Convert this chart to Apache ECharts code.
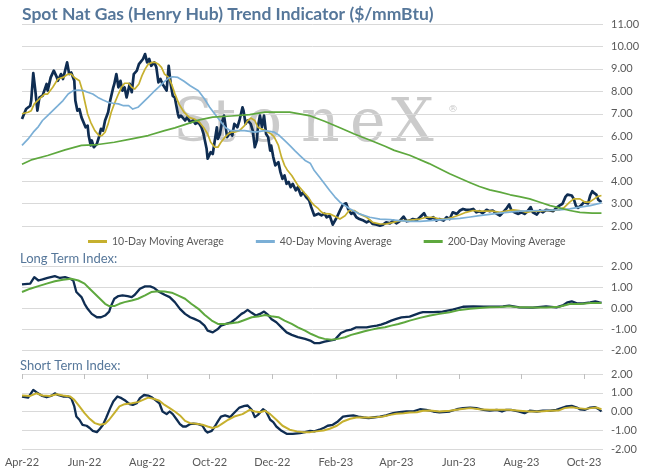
<!DOCTYPE html>
<html>
<head>
<meta charset="utf-8">
<title>Spot Nat Gas (Henry Hub) Trend Indicator</title>
<script src="https://cdn.jsdelivr.net/npm/echarts@6/dist/echarts.min.js"></script>
<style>
  html, body { margin: 0; padding: 0; background: #fff; }
  #chart { width: 646px; height: 475px; }
</style>
</head>
<body>
<div id="chart"></div>
<script>
// day offsets are counted from 1 Apr 2022
const START = Date.UTC(2022, 3, 1);
const END = Date.UTC(2023, 9, 19, 12);
const DAY = 86400000;

const tickDates = ["2022-04-01", "2022-06-01", "2022-08-01", "2022-10-01", "2022-12-01",
  "2023-02-01", "2023-04-01", "2023-06-01", "2023-08-01", "2023-10-01"];
const monthNames = ["Jan", "Feb", "Mar", "Apr", "May", "Jun", "Jul", "Aug", "Sep", "Oct", "Nov", "Dec"];
const legendNames = ["10-Day Moving Average", "40-Day Moving Average", "200-Day Moving Average"];

// spot price, $/mmBtu  [day, value]
const spot = [[0,6.77],[4,7.21],[8,7.36],[9,7.6],[11,8.81],[13,8.03],[15,7.14],[17,7.73],[20,7.8],[24,8.33],[25,8.03],[28,8.62],[31,8.92],[34,8.62],[35,8.47],[38,8.77],[40,8.55],[44,9.29],[46,8.77],[48,8.84],[51,8.47],[52,7.59],[54,7.14],[56,7.21],[58,6.84],[59,6.92],[62,6.4],[64,6.47],[65,6.03],[67,5.59],[68,5.81],[70,5.51],[73,5.66],[75,5.96],[77,6.33],[79,6.25],[81,6.7],[84,7.07],[86,7.59],[89,8.18],[90,8.33],[92,8.77],[94,8.18],[96,8.47],[98,8.03],[100,8.18],[102,7.73],[105,8.33],[107,7.96],[109,8.77],[112,8.92],[114,9.21],[115,9.14],[118,9.44],[120,9.66],[122,9.29],[124,9.44],[126,9.14],[129,9.29],[131,9.07],[133,8.4],[135,8.55],[137,8.33],[141,8.03],[143,9.14],[145,8.33],[147,7.8],[149,7.73],[152,7.0],[153,6.84],[155,6.92],[159,6.7],[161,6.84],[164,6.62],[167,6.7],[169,6.55],[172,6.62],[175,6.4],[177,6.1],[180,5.44],[181,5.0],[184,5.29],[186,5.21],[188,5.81],[190,6.4],[191,5.88],[193,6.1],[195,6.62],[197,6.92],[198,7.0],[200,5.96],[203,6.18],[205,6.03],[207,6.55],[210,6.4],[212,6.7],[215,7.29],[216,7.14],[218,6.55],[220,6.7],[223,6.55],[225,6.25],[227,5.51],[229,5.81],[230,6.4],[232,6.92],[234,6.4],[236,6.92],[238,6.1],[240,5.96],[242,5.36],[243,5.58],[245,5.07],[247,4.7],[250,4.84],[252,4.4],[254,4.1],[256,4.25],[258,3.88],[260,3.96],[262,3.73],[264,3.88],[267,3.59],[269,3.73],[272,3.36],[274,3.51],[277,3.29],[280,3.14],[282,2.84],[285,2.47],[289,2.55],[292,2.47],[295,2.55],[297,2.39],[300,2.46],[303,2.06],[307,2.39],[310,2.69],[313,2.96],[316,3.01],[318,2.76],[321,2.54],[323,2.61],[326,2.39],[329,2.31],[333,2.24],[336,2.16],[339,2.24],[342,2.09],[346,2.06],[349,2.01],[352,2.06],[355,2.16],[359,2.12],[362,2.24],[365,2.12],[368,2.21],[372,2.42],[375,2.21],[378,2.24],[381,2.31],[385,2.27],[388,2.39],[392,2.57],[394,2.39],[398,2.31],[401,2.39],[404,2.24],[407,2.31],[411,2.24],[414,2.39],[417,2.31],[420,2.61],[424,2.54],[427,2.69],[430,2.76],[433,2.72],[437,2.72],[440,2.76],[443,2.61],[446,2.66],[449,2.57],[453,2.72],[456,2.66],[459,2.69],[463,2.54],[466,2.46],[469,2.61],[472,2.76],[475,2.96],[477,2.72],[480,2.61],[484,2.54],[487,2.61],[490,2.54],[493,2.66],[496,2.84],[498,2.61],[502,2.51],[505,2.69],[508,2.61],[511,2.72],[515,2.69],[518,2.66],[521,2.81],[524,2.91],[527,2.99],[530,3.31],[532,3.40],[536,3.36],[538,3.21],[540,2.91],[542,2.81],[545,2.91],[548,3.06],[552,3.01],[554,3.36],[556,3.55],[558,3.46],[560,3.40],[562,3.16],[563,3.21],[565,3.06]];

const ma10 = [[0,7.0],[6,7.07],[9,7.14],[12,7.44],[17,7.66],[22,7.88],[25,7.88],[30,8.18],[35,8.55],[40,8.62],[45,8.77],[48,8.77],[51,8.62],[56,8.47],[59,8.03],[61,7.59],[64,6.99],[67,6.62],[71,6.25],[75,6.03],[78,6.03],[81,6.18],[84,6.55],[87,7.07],[90,7.44],[94,7.88],[97,8.18],[100,8.36],[104,8.36],[107,8.18],[110,8.10],[114,8.33],[117,8.70],[120,8.99],[123,9.21],[127,9.29],[130,9.29],[133,9.21],[136,9.07],[139,8.77],[143,8.62],[146,8.3],[149,7.9],[153,7.44],[158,7.07],[163,6.84],[168,6.77],[173,6.62],[178,6.33],[181,6.10],[184,5.73],[188,5.51],[191,5.51],[194,5.73],[198,5.96],[201,6.10],[204,6.18],[207,6.18],[212,6.25],[217,6.47],[220,6.70],[223,6.81],[227,6.70],[230,6.40],[233,6.33],[237,6.25],[240,6.18],[243,6.10],[246,5.96],[250,5.59],[253,5.07],[256,4.70],[259,4.47],[263,4.25],[266,4.03],[269,3.81],[272,3.66],[276,3.44],[279,3.29],[282,3.07],[285,2.92],[289,2.77],[292,2.62],[295,2.55],[300,2.54],[307,2.39],[310,2.31],[315,2.46],[319,2.69],[324,2.69],[329,2.54],[336,2.39],[342,2.16],[349,2.09],[355,2.09],[362,2.16],[368,2.24],[375,2.24],[381,2.27],[388,2.31],[394,2.39],[401,2.39],[407,2.31],[414,2.31],[420,2.39],[427,2.50],[433,2.61],[440,2.69],[446,2.66],[453,2.66],[459,2.66],[466,2.61],[472,2.66],[479,2.72],[485,2.69],[492,2.61],[498,2.66],[505,2.66],[511,2.69],[518,2.69],[524,2.72],[529,2.84],[534,3.06],[538,3.21],[544,3.21],[549,3.06],[553,3.06],[558,3.21],[561,3.31],[565,3.36]];

const ma40 = [[0,5.59],[6,5.88],[11,6.18],[16,6.43],[20,6.70],[25,6.92],[30,7.14],[35,7.36],[40,7.59],[45,7.88],[50,8.03],[55,8.06],[60,8.03],[64,7.96],[69,7.88],[74,7.73],[79,7.61],[84,7.51],[89,7.47],[94,7.44],[99,7.36],[104,7.36],[108,7.21],[113,7.29],[118,7.51],[123,7.73],[128,7.96],[133,8.18],[138,8.40],[143,8.59],[147,8.65],[152,8.62],[158,8.45],[164,8.25],[172,8.03],[178,7.66],[183,7.29],[188,6.99],[193,6.70],[198,6.40],[203,6.25],[207,6.25],[217,6.25],[227,6.18],[237,6.25],[246,6.18],[251,6.03],[256,5.81],[261,5.59],[266,5.36],[271,5.14],[276,4.92],[281,4.80],[285,4.47],[290,4.18],[295,3.88],[300,3.58],[305,3.30],[310,3.06],[320,2.76],[329,2.54],[339,2.39],[349,2.31],[359,2.28],[368,2.24],[378,2.21],[388,2.21],[398,2.24],[407,2.27],[417,2.31],[427,2.34],[437,2.40],[446,2.46],[466,2.57],[485,2.66],[505,2.69],[524,2.72],[534,2.76],[544,2.84],[554,2.91],[563,3.01],[565,3.04]];

const ma200 = [[0,4.75],[10,4.96],[25,5.14],[42,5.39],[58,5.59],[74,5.63],[90,5.73],[107,5.88],[123,6.03],[139,6.25],[149,6.37],[161,6.55],[173,6.73],[186,6.85],[204,6.9],[222,6.96],[237,7.07],[261,7.07],[280,6.92],[295,6.67],[310,6.38],[324,6.10],[339,5.83],[354,5.55],[363,5.37],[378,5.15],[397,4.78],[417,4.33],[437,3.93],[446,3.76],[456,3.61],[466,3.51],[476,3.39],[485,3.31],[495,3.21],[505,3.06],[515,2.91],[524,2.81],[534,2.69],[544,2.61],[556,2.57],[565,2.57]];

const longIdx = [[0,1.12],[8,1.16],[12,1.47],[16,1.31],[20,1.36],[25,1.43],[32,1.52],[37,1.43],[42,1.47],[47,1.39],[50,1.31],[53,0.76],[58,0.52],[61,0.2],[64,-0.04],[68,-0.28],[73,-0.44],[77,-0.44],[81,-0.36],[85,-0.17],[87,0.12],[90,0.44],[94,0.57],[98,0.60],[103,0.57],[107,0.52],[110,0.63],[115,0.92],[120,1.03],[125,1.03],[129,0.95],[134,0.76],[139,0.63],[144,0.52],[149,0.28],[154,-0.04],[159,-0.28],[164,-0.44],[168,-0.52],[173,-0.63],[178,-0.84],[181,-1.08],[186,-1.16],[191,-1.0],[194,-0.84],[199,-0.76],[204,-0.68],[209,-0.49],[214,-0.28],[217,-0.2],[220,-0.09],[224,-0.23],[228,-0.36],[232,-0.28],[236,-0.17],[240,-0.33],[243,-0.52],[248,-0.68],[253,-0.92],[258,-1.16],[263,-1.28],[269,-1.39],[276,-1.47],[281,-1.55],[285,-1.67],[290,-1.67],[295,-1.60],[300,-1.55],[305,-1.51],[308,-1.35],[311,-1.19],[316,-1.08],[321,-1.03],[326,-0.92],[336,-0.92],[341,-0.87],[346,-0.84],[350,-0.79],[355,-0.71],[360,-0.6],[365,-0.52],[370,-0.45],[378,-0.41],[388,-0.23],[391,-0.2],[401,-0.2],[410,-0.17],[420,-0.08],[430,0.06],[440,0.08],[450,0.06],[459,0.06],[469,0.08],[475,0.11],[485,0.03],[498,0.02],[511,0.08],[521,0.03],[528,0.14],[532,0.27],[536,0.32],[541,0.22],[547,0.22],[554,0.27],[559,0.32],[563,0.27],[565,0.25]];

const longMa = [[0,0.76],[8,0.92],[16,1.04],[24,1.16],[32,1.27],[40,1.35],[48,1.39],[55,1.31],[61,1.16],[66,0.92],[71,0.68],[76,0.44],[81,0.2],[85,0.09],[90,0.09],[95,0.2],[100,0.28],[107,0.36],[113,0.44],[120,0.6],[126,0.76],[133,0.8],[139,0.79],[146,0.73],[152,0.6],[159,0.44],[165,0.2],[172,-0.04],[178,-0.32],[185,-0.6],[191,-0.76],[198,-0.76],[204,-0.73],[211,-0.68],[217,-0.57],[224,-0.44],[230,-0.41],[237,-0.33],[243,-0.39],[250,-0.44],[256,-0.6],[263,-0.76],[269,-0.92],[276,-1.08],[282,-1.24],[289,-1.39],[295,-1.47],[302,-1.51],[308,-1.47],[315,-1.39],[321,-1.28],[328,-1.19],[334,-1.11],[341,-1.03],[347,-0.96],[354,-0.92],[360,-0.84],[367,-0.76],[373,-0.68],[378,-0.6],[388,-0.47],[398,-0.36],[407,-0.28],[417,-0.2],[427,-0.09],[437,-0.04],[446,0.0],[456,0.03],[466,0.05],[475,0.08],[485,0.03],[498,0.02],[511,0.02],[524,0.06],[534,0.19],[544,0.19],[554,0.24],[565,0.24]];

const shortIdx = [[0,0.8],[6,0.74],[11,1.15],[14,1.03],[19,0.85],[24,0.76],[29,0.85],[32,0.97],[35,0.88],[40,0.8],[45,0.8],[48,0.71],[51,0.27],[53,-0.27],[56,-0.44],[59,-0.71],[63,-0.76],[66,-0.88],[69,-1.03],[73,-1.1],[76,-0.92],[79,-0.71],[82,-0.35],[86,0.18],[89,0.53],[93,0.8],[97,0.71],[101,0.57],[105,0.39],[108,0.35],[112,0.44],[115,0.71],[119,0.88],[123,0.85],[127,0.74],[131,0.57],[134,0.44],[137,0.0],[141,-0.14],[144,0.0],[147,-0.14],[151,-0.44],[154,-0.67],[157,-0.80],[160,-0.80],[164,-0.67],[167,-0.65],[172,-0.67],[176,-0.76],[179,-1.03],[181,-1.12],[185,-1.03],[188,-0.80],[191,-0.53],[194,-0.27],[198,-0.21],[203,-0.3],[206,-0.12],[212,0.21],[217,0.30],[220,0.32],[224,0.09],[227,-0.30],[230,-0.18],[235,0.12],[238,0.0],[242,-0.44],[245,-0.57],[248,-0.80],[253,-1.03],[258,-1.19],[264,-1.19],[271,-1.15],[276,-1.10],[281,-1.03],[285,-1.06],[290,-0.97],[295,-0.85],[298,-0.76],[303,-0.71],[308,-0.53],[313,-0.27],[318,-0.23],[323,-0.21],[328,-0.27],[333,-0.32],[338,-0.35],[342,-0.32],[349,-0.27],[355,-0.21],[362,-0.09],[368,-0.04],[375,0.0],[381,0.0],[388,0.12],[394,0.09],[401,0.0],[407,-0.04],[417,0.0],[424,0.12],[430,0.18],[437,0.21],[443,0.18],[450,0.09],[456,0.05],[463,0.09],[468,0.0],[472,0.09],[477,0.09],[484,0.0],[490,-0.09],[495,0.04],[502,0.0],[508,0.05],[515,0.04],[521,0.09],[526,0.18],[531,0.27],[536,0.30],[541,0.21],[544,0.12],[549,0.09],[554,0.21],[559,0.23],[562,0.14],[565,0.0]];

const shortMa = [[0,0.85],[8,0.83],[14,0.97],[20,0.85],[27,0.83],[34,0.92],[40,0.85],[47,0.8],[51,0.62],[56,0.27],[61,-0.09],[66,-0.39],[71,-0.62],[76,-0.71],[81,-0.65],[85,-0.44],[90,-0.09],[95,0.27],[100,0.39],[107,0.44],[113,0.5],[118,0.62],[123,0.74],[129,0.67],[134,0.57],[139,0.35],[144,0.18],[149,0.0],[154,-0.21],[159,-0.5],[164,-0.62],[170,-0.65],[176,-0.71],[181,-0.80],[186,-0.88],[191,-0.80],[196,-0.62],[201,-0.44],[207,-0.27],[215,-0.14],[222,0.09],[227,0.0],[232,-0.04],[237,0.04],[242,-0.14],[248,-0.44],[254,-0.76],[261,-0.97],[268,-1.06],[274,-1.10],[281,-1.10],[287,-1.06],[294,-1.01],[300,-0.92],[307,-0.76],[313,-0.53],[320,-0.39],[326,-0.32],[333,-0.32],[339,-0.32],[346,-0.30],[352,-0.27],[359,-0.18],[365,-0.12],[372,-0.09],[378,-0.05],[385,-0.04],[391,0.04],[398,0.05],[407,0.0],[417,0.04],[427,0.12],[437,0.18],[446,0.12],[456,0.09],[466,0.09],[475,0.09],[485,0.04],[495,0.0],[505,0.0],[515,0.04],[523,0.05],[529,0.18],[536,0.23],[542,0.18],[549,0.14],[555,0.18],[560,0.21],[565,0.12]];

const FONT = "Lato, 'Open Sans', sans-serif";
const NAVY = "#0f2d52";
const GOLD = "#c6b02e";
const BLUE = "#7bafd6";
const GREEN = "#5ea83e";
const LABEL = "#595959";
const HEAD = "#56779a";

function toTime(points) {
  return points.map(function (p) { return [START + p[0] * DAY, p[1]]; });
}

const tickValues = tickDates.map(function (d) { return Date.parse(d + "T00:00:00Z"); });

function monthLabel(v) {
  const d = new Date(v);
  return monthNames[d.getUTCMonth()] + "-" + String(d.getUTCFullYear()).slice(2);
}

function valueAxis(gridIndex, min, max) {
  return {
    type: "value", gridIndex: gridIndex, position: "right",
    min: min, max: max, interval: 1,
    axisLine: { show: false }, axisTick: { show: false },
    axisLabel: { color: LABEL, fontSize: 11, fontFamily: FONT, margin: 8,
      formatter: function (v) { return v.toFixed(2); } },
    splitLine: { lineStyle: { color: "#d9d9d9", width: 1 } }
  };
}

// date axis built on a value scale of timestamps so the ticks can sit on month starts
function dateAxis(gridIndex, extra) {
  return Object.assign({
    type: "value", gridIndex: gridIndex, min: START, max: END,
    axisLine: { show: false }, axisTick: { show: false },
    axisLabel: { show: false }, splitLine: { show: false }
  }, extra || {});
}

function line(name, points, color, width, axis) {
  return {
    type: "line", name: name, data: toTime(points),
    xAxisIndex: axis, yAxisIndex: axis,
    showSymbol: false, symbol: "none",
    lineStyle: { color: color, width: width, join: "round" },
    itemStyle: { color: color },
    emphasis: { disabled: true }
  };
}

// watermark letters, spaced out like the logo
const markLetters = [["S", 173], ["t", 212], ["o", 246], ["n", 301], ["e", 350], ["X", 391]];
const watermark = markLetters.map(function (m) {
  return { type: "text", x: m[1], y: 95, z: 0, silent: true,
    style: { text: m[0], fill: "#cbcbcb", font: "60px 'DejaVu Serif', serif" } };
});
watermark.push({ type: "text", x: 448, y: 104, z: 0, silent: true,
  style: { text: "\u00ae", fill: "#cbcbcb", font: "10px 'DejaVu Serif', serif" } });

const chart = echarts.init(document.getElementById("chart"));
chart.setOption({
  animation: false,
  backgroundColor: "#ffffff",
  title: {
    text: "Spot Nat Gas (Henry Hub) Trend Indicator ($/mmBtu)",
    left: 17, top: 0,
    textStyle: { color: HEAD, fontSize: 17.5, fontWeight: "bold", fontFamily: FONT }
  },
  legend: {
    data: legendNames, left: 83, top: 231,
    icon: "rect", itemWidth: 19, itemHeight: 3, itemGap: 32,
    selectedMode: false,
    textStyle: { color: LABEL, fontSize: 10.5, fontFamily: FONT }
  },
  graphic: watermark.concat([
    { type: "text", x: 20, y: 252, style: { text: "Long Term Index:", fill: HEAD, font: "13px " + FONT } },
    { type: "text", x: 20, y: 359, style: { text: "Short Term Index:", fill: HEAD, font: "13px " + FONT } }
  ]),
  grid: [
    { left: 22, right: 43, top: 24, height: 202 },
    { left: 22, right: 43, top: 266, height: 84 },
    { left: 22, right: 43, top: 374, height: 75 }
  ],
  xAxis: [
    dateAxis(0),
    dateAxis(1),
    dateAxis(2, {
      axisLabel: { show: true, customValues: tickValues, formatter: monthLabel, color: LABEL,
        fontSize: 11, fontFamily: FONT, margin: 8, hideOverlap: false }
    }),
    dateAxis(2, {
      position: "top",
      axisTick: { show: true, inside: true, length: 5, customValues: tickValues,
        lineStyle: { color: "#bfbfbf" } }
    })
  ],
  yAxis: [valueAxis(0, 2, 11), valueAxis(1, -2, 2), valueAxis(2, -2, 2)],
  series: [
    line("Spot", spot, NAVY, 2.7, 0),
    line(legendNames[0], ma10, GOLD, 1.7, 0),
    line(legendNames[1], ma40, BLUE, 1.7, 0),
    line(legendNames[2], ma200, GREEN, 1.7, 0),
    line("Long Term Index", longIdx, NAVY, 2.3, 1),
    line("Long Term Average", longMa, GREEN, 2, 1),
    line("Short Term Index", shortIdx, NAVY, 2.3, 2),
    line("Short Term Average", shortMa, GOLD, 2, 2)
  ]
});

window.addEventListener("resize", function () {
  chart.resize();
});
</script>
</body>
</html>
